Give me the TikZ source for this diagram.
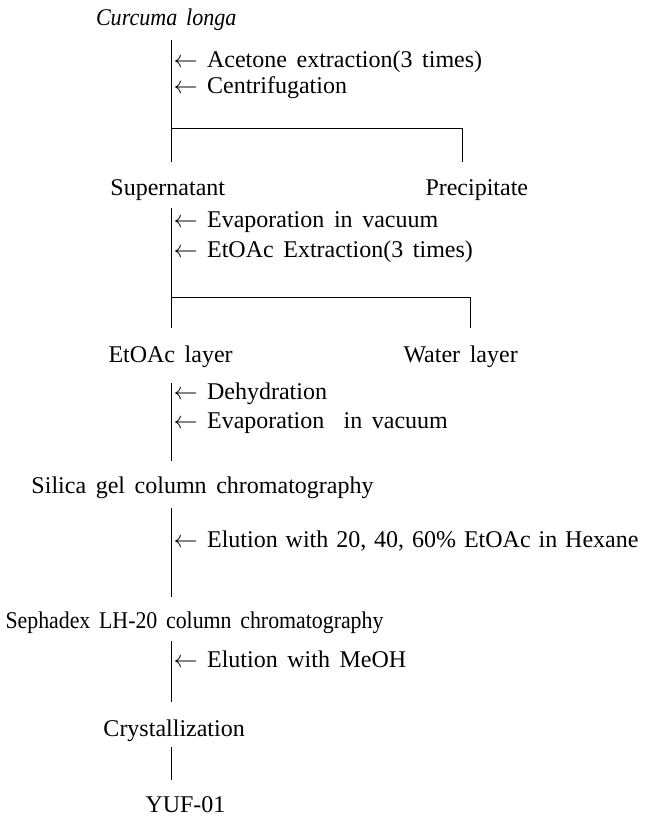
\documentclass[tikz,border=0pt]{standalone}
\usepackage{amsmath}
\usepackage{amssymb}
\usepackage{graphicx}
\usepackage{fontspec}
\setmainfont{Liberation Serif}[WordSpace=1.6]
\usepackage{tikz}

\begin{document}
\begin{tikzpicture}[x=0.5pt,y=-0.5pt,line width=0.5pt,
  txt/.style={inner sep=0pt,font=\fontsize{12}{14}\selectfont},
  prod/.style={txt,anchor=base west},
  note/.style={txt,anchor=base west}]
\useasboundingbox (0,0) rectangle (649,816);
\node[txt,anchor=base east] (cur) at (237,25) {\scalebox{0.92}[1]{\textit{Curcuma longa}}};
\foreach \Name/\X/\Y/\Label in {sup/110/195/Supernatant, pre/425/195/Precipitate, eto/108/362/EtOAc layer, wat/403/362/Water layer, sil/31/493/Silica gel column chromatography, sep/5/628/{\scalebox{0.91}[1]{Sephadex LH-20 column chromatography}}, cry/103/736/Crystallization, yuf/145/812/YUF-01}
    \node[prod] (\Name) at (\X,\Y) {\Label};
\foreach \Name/\Y/\Label in {n1/67/Acetone extraction(3 times), n2/93/Centrifugation, n3/227/Evaporation in vacuum, n4/257/EtOAc Extraction(3 times), n5/399/Dehydration, n6/428/{Evaporation\ \ in vacuum}, n7/547/{\spaceskip=0.33em Elution with 20, 40, 60\% EtOAc in Hexane}, n8/667/Elution with MeOH}
    \node[note] (\Name) at (173,\Y) {$\leftarrow$ \Label};
\foreach \Name/\Top/\Bottom in {a/40/162, b/208/328, c/383/461, d/508/597, e/641/702, f/747/780}{
    \coordinate (\Name top) at (171,\Top);
    \coordinate (\Name bot) at (171,\Bottom);
    \draw (\Name top) -- (\Name bot);
}
\foreach \Name/\Y/\X/\End in {a/128/462/162, b/297/470/328}{
    \coordinate (\Name split) at (171,\Y);
    \coordinate (\Name right) at (\X,\Y);
    \coordinate (\Name end) at (\X,\End);
    \draw (\Name split) -- (\Name right) -- (\Name end);
}
\end{tikzpicture}
\end{document}
